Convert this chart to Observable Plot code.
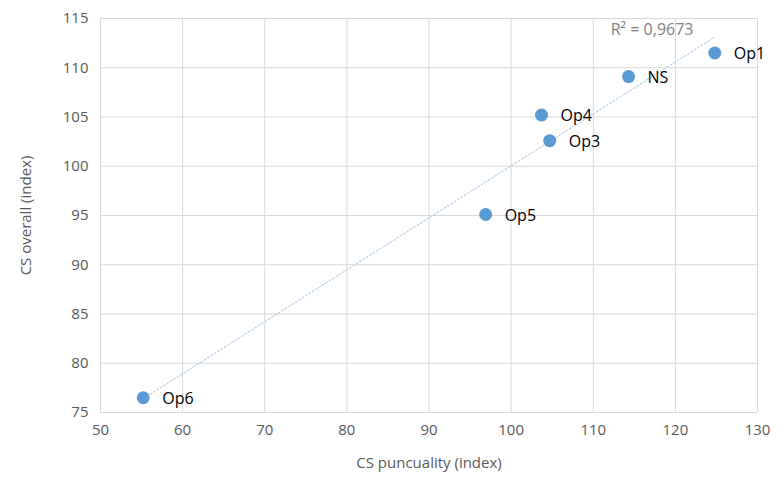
<!DOCTYPE html>
<html><head><meta charset="utf-8">
<script src="https://cdn.jsdelivr.net/npm/d3@7"></script>
<script src="https://cdn.jsdelivr.net/npm/@observablehq/plot@0.6"></script>
<style>body{margin:0;background:#fff;font-family:"Open Sans",Calibri,sans-serif}</style>
</head><body><div id="c"></div>
<script>
const labels = ["Op1","NS","Op4","Op3","Op5","Op6"];
const punct = [124.8,114.3,103.7,104.7,96.9,55.2];
const overall = [111.5,109.1,105.2,102.6,95.1,76.5];
const xTicks = [50,60,70,80,90,100,110,120,130];
const yTicks = [75,80,85,90,95,100,105,110,115];
const data = labels.map((l,i)=>({l,x:punct[i],y:overall[i]}));
const chart = Plot.plot({
  width:778,height:485,marginLeft:100,marginRight:21,marginTop:18,marginBottom:73,
  style:{fontFamily:"Open Sans, sans-serif",fontSize:"15px",color:"#595959"},
  x:{domain:[50,130],ticks:xTicks,label:"CS puncuality (index)",labelArrow:"none",labelAnchor:"center",labelOffset:55,tickSize:0,tickPadding:12},
  y:{domain:[75,115],ticks:yTicks,label:"CS overall (index)",labelArrow:"none",labelAnchor:"center",labelOffset:80,tickSize:0,tickPadding:12},
  marks:[
    Plot.gridX(xTicks,{stroke:"#d9d9d9",strokeOpacity:1}),
    Plot.gridY(yTicks,{stroke:"#d9d9d9",strokeOpacity:1}),
    Plot.linearRegressionY(data,{x:"x",y:"y",stroke:"#9dc3e6",strokeWidth:1,strokeDasharray:"2,2",ci:0}),
    Plot.dot(data,{x:"x",y:"y",r:6.5,fill:"#5b9bd5"}),
    Plot.text(data,{x:"x",y:"y",text:"l",dx:19,dy:1,textAnchor:"start",fontSize:16,fill:"#000"}),
    Plot.text(["R² = 0,9673"],{frameAnchor:"top-right",dx:-64,dy:5,fontSize:16,fill:"#808080"})
  ]
});
document.getElementById("c").append(chart);
</script></body></html>
